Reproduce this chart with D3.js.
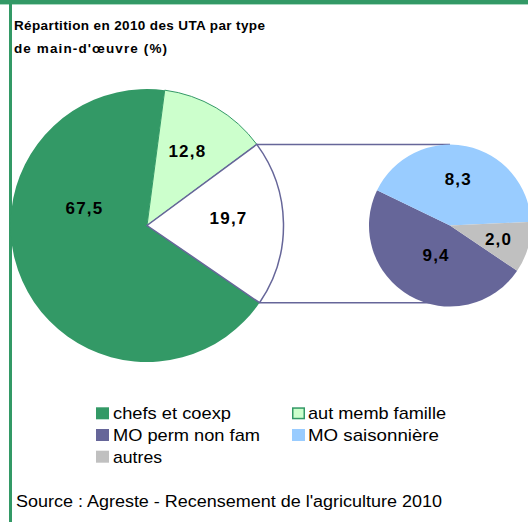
<!DOCTYPE html>
<html><head><meta charset="utf-8">
<script src="https://cdn.jsdelivr.net/npm/d3@7"></script>
<style>html,body{margin:0;padding:0;background:#fff;}svg{display:block;}</style>
</head><body>
<script>
// ---- data ----
const mainCategories = ["aut memb famille", "autres (détail)", "chefs et coexp"];
const mainValues = [12.8, 19.7, 67.5];
const secCategories = ["MO perm non fam", "MO saisonnière", "autres"];
const secValues = [9.4, 8.3, 2.0];
const legendLabels = ["chefs et coexp", "aut memb famille", "MO perm non fam", "MO saisonnière", "autres"];
const titleLines = ["Répartition en 2010 des UTA par type", "de main-d'œuvre (%)"];
const sourceText = "Source : Agreste - Recensement de l'agriculture 2010";

// ---- styles / layout ----
const W = 528, H = 522;
const FONT = "'Liberation Sans', Arial, Helvetica, sans-serif";
const green = "#339966", lightGreen = "#ccffcc", purple = "#666699", blue = "#99ccff", gray = "#c0c0c0";
const mainColors = [lightGreen, "#ffffff", green];
const mainStrokes = [green, purple, "none"];
const secColors = [purple, blue, gray];
const legendColors = [green, lightGreen, purple, blue, gray];
const legendStrokes = [null, green, null, null, null];
const rad = d => d * Math.PI / 180;
// label placement: [angle deg, radius fraction]
const mainLabelPos = [[28.5, 0.62], [84.6, 0.6], [285.4, 0.475]];
const secLabelPos = [[205, 0.405], [10, 0.585], [105, 0.62]];

const svg = d3.select("body").append("svg").attr("width", W).attr("height", H)
  .style("font-family", FONT);

// frame
svg.append("rect").attr("x", 0).attr("y", 0).attr("width", W).attr("height", 4).attr("fill", green);
svg.append("rect").attr("x", 0).attr("y", 4).attr("width", W).attr("height", 1).attr("fill", "#a8d8c0");
svg.append("rect").attr("x", 9).attr("y", 0).attr("width", 3).attr("height", H).attr("fill", green);

// title
const titleLens = [251, 153];
svg.append("g").selectAll("text").data(titleLines).join("text")
  .attr("x", 14).attr("y", (d, i) => 29.5 + i * 23)
  .style("font-family", FONT)
  .attr("font-weight", "bold").attr("font-size", 13.5)
  .attr("textLength", (d, i) => titleLens[i]).attr("lengthAdjust", "spacing")
  .attr("fill", "#000").text(d => d);

const fmt = v => d3.format(".1f")(v).replace(".", ",");

// main pie
const cx1 = 147, cy = 225.5, r1 = 136.5;
const mainTotal = d3.sum(mainValues);
const secondarySpan = mainValues[1] / mainTotal * 360;
const mainStart = 89 - secondarySpan / 2 - mainValues[0] / mainTotal * 360;
const pie1 = d3.pie().sort(null).value(d => d).startAngle(rad(mainStart)).endAngle(rad(mainStart + 360));
const arcs1 = pie1(mainValues);
const arc1 = d3.arc().innerRadius(0).outerRadius(r1);
const g1 = svg.append("g").attr("transform", `translate(${cx1},${cy})`);
const order = [2, 0, 1];
g1.selectAll("path").data(order.map(i => ({a: arcs1[i], i}))).join("path")
  .attr("d", d => arc1(d.a))
  .attr("fill", d => mainColors[d.i])
  .attr("stroke", d => mainStrokes[d.i])
  .attr("stroke-width", d => d.i === 1 ? 1.5 : 1);

// secondary pie
const cx2 = 450, r2 = 81;
const pie2 = d3.pie().sort(null).value(d => d).startAngle(rad(124)).endAngle(rad(124 + 360));
const arcs2 = pie2(secValues);
const arc2 = d3.arc().innerRadius(0).outerRadius(r2);

// connector lines (behind secondary pie)
const wArc = arcs1[1];
[wArc.startAngle, wArc.endAngle].forEach(a => {
  const x1 = cx1 + r1 * Math.sin(a), y1 = cy - r1 * Math.cos(a);
  let x2, y2;
  const dy = y1 - cy;
  if (Math.abs(dy) < r2) { y2 = y1; x2 = cx2 - Math.sqrt(r2 * r2 - dy * dy) + 4; }
  else { y2 = cy + Math.sign(dy) * r2; x2 = cx2; }
  svg.append("line").attr("x1", x1).attr("y1", y1).attr("x2", x2).attr("y2", y2)
    .attr("stroke", purple).attr("stroke-width", 1.5);
});

const g2 = svg.append("g").attr("transform", `translate(${cx2},${cy})`);
g2.selectAll("path").data(arcs2).join("path")
  .attr("d", arc2).attr("fill", (d, i) => secColors[i]);

// labels
function addLabels(g, arcs, pos, r) {
  g.selectAll("text.lbl").data(arcs).join("text").attr("class", "lbl")
    .attr("x", (d, i) => pos[i][1] * r * Math.sin(rad(pos[i][0])))
    .attr("y", (d, i) => -pos[i][1] * r * Math.cos(rad(pos[i][0])))
    .attr("dy", "0.36em")
    .attr("text-anchor", "middle")
    .style("font-family", FONT).attr("font-weight", "bold").attr("font-size", 17)
    .attr("letter-spacing", 1.2)
    .text(d => fmt(d.data));
}
addLabels(g1, arcs1, mainLabelPos, r1);
addLabels(g2, arcs2, secLabelPos, r2);

// legend
const legX = [96, 292], legTextX = [113, 308], legY0 = 413.3, legDY = 21.7;
const legLens = [118, 138, 147, 131, 49];
const leg = svg.append("g").selectAll("g").data(legendLabels).join("g")
  .attr("transform", (d, i) => `translate(0,${legY0 + Math.floor(i / 2) * legDY})`);
leg.append("rect")
  .attr("x", (d, i) => legX[i % 2] + (legendStrokes[i] ? 0.75 : 0))
  .attr("y", (d, i) => -6 + (legendStrokes[i] ? 0.75 : 0))
  .attr("width", (d, i) => legendStrokes[i] ? 11.5 : 13)
  .attr("height", (d, i) => legendStrokes[i] ? 10.5 : 12)
  .attr("fill", (d, i) => legendColors[i])
  .attr("stroke", (d, i) => legendStrokes[i] || "none").attr("stroke-width", 1.5);
leg.append("text")
  .attr("x", (d, i) => legTextX[i % 2]).attr("y", 0).attr("dy", "0.35em")
  .style("font-family", FONT).attr("font-size", 17)
  .attr("textLength", (d, i) => legLens[i]).attr("lengthAdjust", "spacingAndGlyphs")
  .attr("fill", "#000").text(d => d);

// source
svg.append("text").attr("x", 16).attr("y", 507)
  .style("font-family", FONT).attr("font-size", 16)
  .attr("textLength", 426).attr("lengthAdjust", "spacingAndGlyphs")
  .attr("fill", "#000").text(sourceText);
</script>
</body></html>
